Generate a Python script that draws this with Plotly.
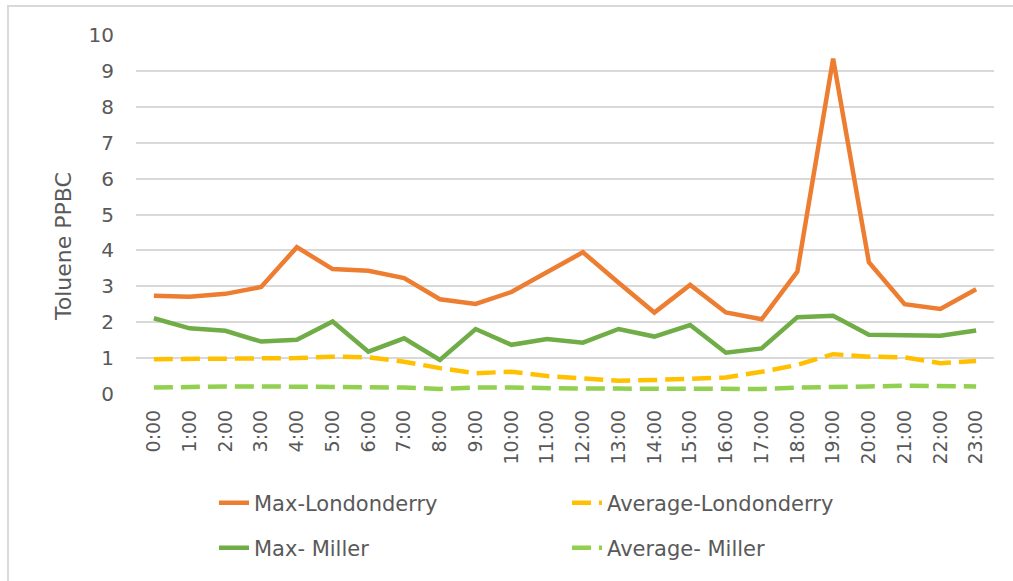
import plotly.graph_objects as go

hours = [f"{h}:00" for h in range(24)]

max_londonderry = [2.74, 2.71, 2.79, 2.98, 4.09, 3.48, 3.43, 3.23, 2.64, 2.51,
                   2.84, 3.39, 3.95, 3.10, 2.27, 3.04, 2.27, 2.08, 3.41, 9.34,
                   3.67, 2.50, 2.37, 2.92]
avg_londonderry = [0.97, 0.97, 0.97, 0.97, 1.00, 1.04, 1.02, 0.90, 0.72, 0.58,
                   0.62, 0.50, 0.44, 0.37, 0.39, 0.42, 0.46, 0.62, 0.81, 1.11,
                   1.04, 1.02, 0.86, 0.92]
max_miller = [2.11, 1.83, 1.76, 1.46, 1.51, 2.02, 1.18, 1.55, 0.95, 1.81,
              1.37, 1.53, 1.43, 1.81, 1.60, 1.92, 1.15, 1.27, 2.14, 2.18,
              1.65, 1.62, 1.62, 1.77]
avg_miller = [0.18, 0.21, 0.21, 0.21, 0.21, 0.21, 0.19, 0.18, 0.14, 0.18,
              0.18, 0.15, 0.15, 0.15, 0.15, 0.12, 0.12, 0.14, 0.18, 0.21,
              0.21, 0.23, 0.21, 0.21]

y_ticks = list(range(0, 11))

FONT = "DejaVu Sans"
GRAY = "#595959"
GRID = "#d9d9d9"

fig = go.Figure()
fig.add_trace(go.Scatter(x=hours, y=max_londonderry, mode="lines", name="Max-Londonderry",
                         line=dict(color="#ED7D31", width=4.5), legend="legend"))
fig.add_trace(go.Scatter(x=hours, y=avg_londonderry, mode="lines", name="Average-Londonderry",
                         line=dict(color="#FFC000", width=4.5, dash="19px,8px"), legend="legend"))
fig.add_trace(go.Scatter(x=hours, y=max_miller, mode="lines", name="Max- Miller",
                         line=dict(color="#70AD47", width=4.5), legend="legend2"))
fig.add_trace(go.Scatter(x=hours, y=avg_miller, mode="lines", name="Average- Miller",
                         line=dict(color="#92D050", width=4.5, dash="19px,8px"), legend="legend2"))

W, H = 1013, 581
L, R, T, B = 136, 19, 35, 187
pw, ph = W - L - R, H - T - B

def px2x(p):
    return (p - L) / pw

def px2y(p):
    return (H - B - p) / ph

legend_common = dict(orientation="h", entrywidth=308, font=dict(family=FONT, size=21, color=GRAY),
                     xanchor="left", yanchor="middle", bgcolor="rgba(0,0,0,0)")

fig.update_layout(
    width=W, height=H,
    margin=dict(l=L, r=R, t=T, b=B, autoexpand=False),
    paper_bgcolor="white", plot_bgcolor="white",
    showlegend=True,
    legend=dict(x=px2x(214), y=px2y(503), **legend_common),
    legend2=dict(x=px2x(214), y=px2y(548), **legend_common),
    xaxis=dict(type="category", range=[-0.5, 23.5], showgrid=False, zeroline=False,
               showline=False, ticks="", tickangle=-90,
               tickfont=dict(family=FONT, size=19, color=GRAY), automargin=False,
               ticklabelstandoff=11),
    yaxis=dict(range=[0, 10], tickvals=y_ticks, showgrid=True, gridcolor=GRID, gridwidth=1.5,
               zeroline=False, showline=False, ticks="",
               tickfont=dict(family=FONT, size=20, color=GRAY), automargin=False,
               ticklabelstandoff=21),
    annotations=[dict(text="Toluene PPBC", x=px2x(63), y=px2y(247), xref="paper", yref="paper",
                      textangle=-90, showarrow=False, xanchor="center", yanchor="middle",
                      font=dict(family=FONT, size=22, color=GRAY))],
    shapes=[
        dict(type="line", xref="paper", yref="paper", x0=px2x(8), x1=px2x(8),
             y0=px2y(6), y1=px2y(600), line=dict(color=GRID, width=2)),
        dict(type="line", xref="paper", yref="paper", x0=px2x(7), x1=px2x(1030),
             y0=px2y(6), y1=px2y(6), line=dict(color=GRID, width=2)),
    ],
)

fig.write_html("out.html", config={"displayModeBar": False},
               post_script="document.body.style.margin='0';document.body.style.overflow='hidden';")
